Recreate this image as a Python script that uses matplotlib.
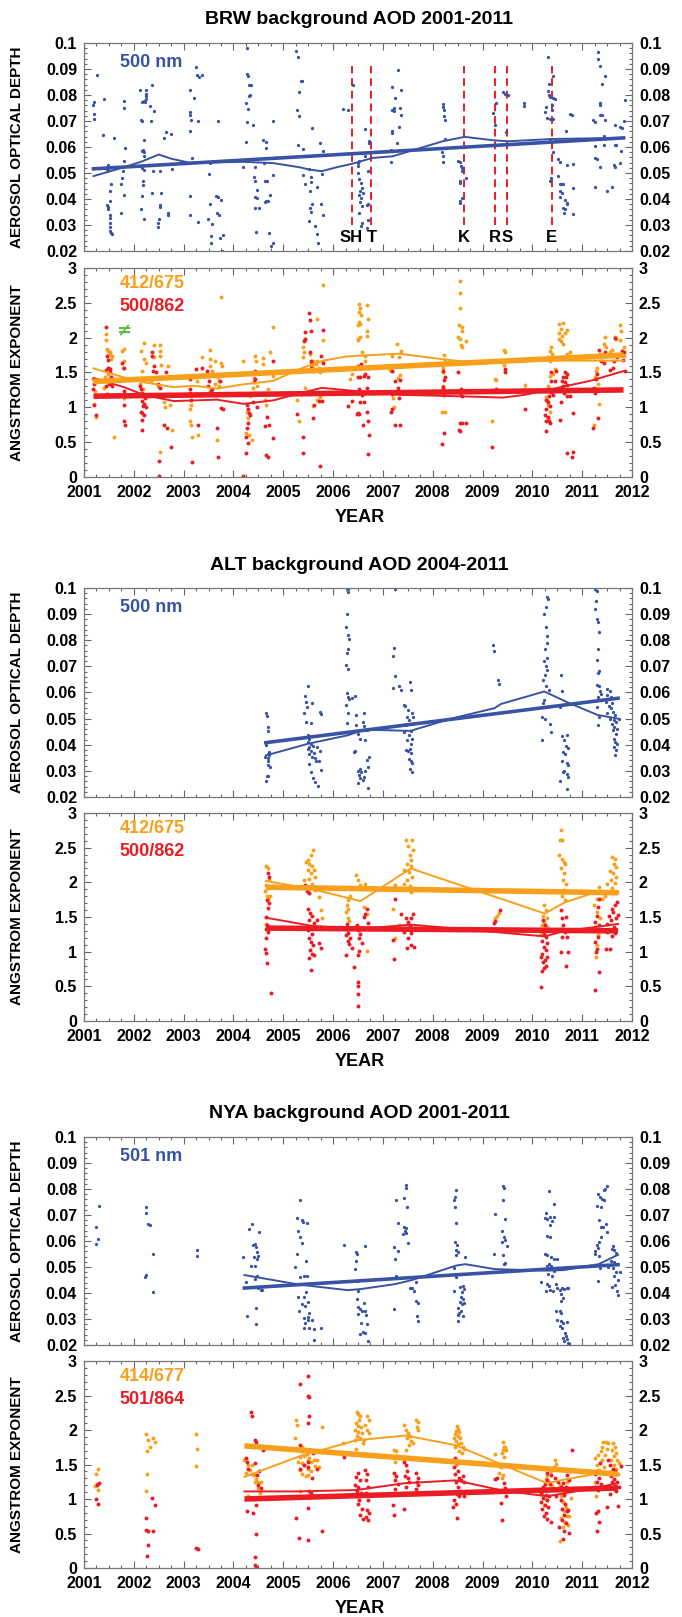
import numpy as np
import matplotlib
matplotlib.use("Agg")
import matplotlib.pyplot as plt
from matplotlib.ticker import MultipleLocator, FuncFormatter

plt.rcParams["font.family"] = ["Liberation Sans Narrow", "Liberation Sans", "DejaVu Sans"]
plt.rcParams["font.weight"] = "bold"

BLUE = "#3953a4"
ORANGE = "#f8a01c"
RED = "#ec1c24"
GREEN = "#5bb947"

# ---------------- BRW ----------------
brw_aod = [
    (2001.27, 0.0876), (2001.20, 0.0773), (2001.19, 0.0763), (2001.20, 0.0727), (2001.20, 0.0709),
    (2001.40, 0.0786), (2001.39, 0.0645), (2001.60, 0.0636),
    (2001.48, 0.0532), (2001.48, 0.0517), (2001.47, 0.0509), (2001.55, 0.0456), (2001.53, 0.0430),
    (2001.53, 0.0394), (2001.47, 0.0376), (2001.49, 0.0371), (2001.48, 0.0360), (2001.53, 0.0338),
    (2001.52, 0.0328), (2001.52, 0.0308), (2001.52, 0.0294), (2001.53, 0.0276), (2001.55, 0.0271),
    (2001.57, 0.0266),
    (2001.80, 0.0778), (2001.81, 0.0750), (2001.83, 0.0596), (2001.80, 0.0548), (2001.79, 0.0507),
    (2001.77, 0.0481), (2001.75, 0.0456), (2001.80, 0.0417), (2001.75, 0.0347),
    (2002.12, 0.0820), (2002.24, 0.0819), (2002.25, 0.0805), (2002.25, 0.0795), (2002.24, 0.0783),
    (2002.20, 0.0778), (2002.17, 0.0774), (2002.23, 0.0772), (2002.15, 0.0705), (2002.17, 0.0699),
    (2002.35, 0.0699), (2002.37, 0.0837), (2002.33, 0.0756), (2002.40, 0.0740), (2002.21, 0.0627),
    (2002.19, 0.0590), (2002.16, 0.0584), (2002.20, 0.0581), (2002.21, 0.0564), (2002.17, 0.0520),
    (2002.20, 0.0512), (2002.19, 0.0471), (2002.19, 0.0453), (2002.17, 0.0413), (2002.15, 0.0362),
    (2002.20, 0.0324), (2002.36, 0.0422), (2002.39, 0.0509), (2002.53, 0.0507), (2002.55, 0.0424),
    (2002.52, 0.0375), (2002.53, 0.0369), (2002.51, 0.0322), (2002.48, 0.0308), (2002.48, 0.0292),
    (2002.68, 0.0346), (2002.68, 0.0338), (2002.77, 0.0516), (2002.61, 0.0636), (2002.65, 0.0658),
    (2002.75, 0.0650),
    (2003.13, 0.0820), (2003.20, 0.0788), (2003.13, 0.0733), (2003.13, 0.0724), (2003.15, 0.0705),
    (2003.28, 0.0701), (2003.13, 0.0663), (2003.25, 0.0906), (2003.27, 0.0878), (2003.30, 0.0868),
    (2003.37, 0.0878), (2003.17, 0.0556), (2003.13, 0.0413), (2003.13, 0.0338), (2003.29, 0.0311),
    (2003.68, 0.0699),
    (2003.52, 0.0539), (2003.51, 0.0497), (2003.52, 0.0379), (2003.49, 0.0324), (2003.57, 0.0302),
    (2003.55, 0.0257), (2003.55, 0.0229), (2003.65, 0.0411), (2003.68, 0.0407), (2003.75, 0.0398),
    (2003.67, 0.0347), (2003.70, 0.0340), (2003.73, 0.0251), (2003.79, 0.0261), (2003.77, 0.0200),
    (2004.27, 0.0980), (2004.28, 0.0882), (2004.29, 0.0872), (2004.32, 0.0840), (2004.35, 0.0837),
    (2004.33, 0.0801), (2004.32, 0.0795), (2004.25, 0.0769), (2004.30, 0.0746), (2004.27, 0.0696),
    (2004.39, 0.0683), (2004.25, 0.0618), (2004.19, 0.0523), (2004.43, 0.0523), (2004.41, 0.0484),
    (2004.44, 0.0468), (2004.47, 0.0436), (2004.43, 0.0407), (2004.47, 0.0404), (2004.43, 0.0366),
    (2004.51, 0.0366), (2004.45, 0.0273), (2004.60, 0.0625), (2004.65, 0.0619), (2004.65, 0.0596),
    (2004.62, 0.0539), (2004.63, 0.0471), (2004.67, 0.0471), (2004.79, 0.0699), (2004.80, 0.0491),
    (2004.73, 0.0417), (2004.70, 0.0394), (2004.65, 0.0394), (2004.63, 0.0389), (2004.72, 0.0268),
    (2004.80, 0.0229), (2004.75, 0.0221),
    (2005.25, 0.0970), (2005.30, 0.0945), (2005.35, 0.0852), (2005.37, 0.0855), (2005.32, 0.0812),
    (2005.27, 0.0744), (2005.32, 0.0718), (2005.30, 0.0607), (2005.40, 0.0593), (2005.57, 0.0673),
    (2005.40, 0.0494), (2005.43, 0.0458), (2005.52, 0.0514), (2005.55, 0.0484), (2005.56, 0.0466),
    (2005.53, 0.0430), (2005.57, 0.0381), (2005.53, 0.0366), (2005.56, 0.0351), (2005.52, 0.0317),
    (2005.64, 0.0295), (2005.67, 0.0266), (2005.69, 0.0230), (2005.67, 0.0445), (2005.73, 0.0616),
    (2005.77, 0.0498), (2005.80, 0.0584), (2005.75, 0.0381), (2005.79, 0.0340),
    (2006.19, 0.0747), (2006.30, 0.0744), (2006.39, 0.0840),
    (2006.49, 0.0539), (2006.49, 0.0526), (2006.53, 0.0545), (2006.51, 0.0500), (2006.64, 0.0671),
    (2006.72, 0.0616), (2006.65, 0.0564), (2006.71, 0.0507), (2006.52, 0.0475), (2006.57, 0.0462),
    (2006.59, 0.0443), (2006.55, 0.0430), (2006.60, 0.0424), (2006.53, 0.0417), (2006.57, 0.0404),
    (2006.55, 0.0389), (2006.59, 0.0372), (2006.71, 0.0381), (2006.68, 0.0376), (2006.52, 0.0347),
    (2006.59, 0.0308), (2006.57, 0.0296), (2006.71, 0.0321), (2006.69, 0.0289), (2006.73, 0.0622),
    (2007.31, 0.0897), (2007.19, 0.0829), (2007.25, 0.0789), (2007.18, 0.0744), (2007.22, 0.0750),
    (2007.23, 0.0737), (2007.36, 0.0820), (2007.35, 0.0750), (2007.37, 0.0724), (2007.18, 0.0663),
    (2007.18, 0.0654), (2007.33, 0.0676), (2007.29, 0.0616), (2007.16, 0.0590), (2007.16, 0.0543),
    (2008.21, 0.0767), (2008.20, 0.0753), (2008.23, 0.0741), (2008.23, 0.0718), (2008.25, 0.0705),
    (2008.25, 0.0632), (2008.19, 0.0581), (2008.20, 0.0564), (2008.21, 0.0543),
    (2008.50, 0.0545), (2008.55, 0.0543), (2008.57, 0.0526), (2008.59, 0.0520), (2008.58, 0.0507),
    (2008.67, 0.0481), (2008.54, 0.0468), (2008.55, 0.0462), (2008.59, 0.0402), (2008.55, 0.0392),
    (2008.54, 0.0383),
    (2009.21, 0.0731), (2009.27, 0.0769), (2009.24, 0.0683), (2009.42, 0.0811), (2009.46, 0.0804),
    (2009.48, 0.0658), (2009.51, 0.0801), (2009.83, 0.0768), (2009.84, 0.0758),
    (2010.32, 0.0945), (2010.42, 0.0872), (2010.34, 0.0842), (2010.32, 0.0814), (2010.34, 0.0801),
    (2010.36, 0.0791), (2010.42, 0.0788), (2010.46, 0.0786), (2010.39, 0.0763), (2010.26, 0.0735),
    (2010.30, 0.0712), (2010.35, 0.0709), (2010.42, 0.0709), (2010.39, 0.0744), (2010.27, 0.0753),
    (2010.36, 0.0632), (2010.42, 0.0581), (2010.36, 0.0471), (2010.38, 0.0481), (2010.52, 0.0555),
    (2010.56, 0.0543), (2010.70, 0.0530), (2010.81, 0.0535), (2010.52, 0.0488), (2010.55, 0.0458),
    (2010.58, 0.0456), (2010.62, 0.0456), (2010.55, 0.0430), (2010.59, 0.0424), (2010.56, 0.0407),
    (2010.66, 0.0398), (2010.69, 0.0385), (2010.70, 0.0379), (2010.62, 0.0366), (2010.66, 0.0360),
    (2010.63, 0.0347), (2010.82, 0.0343), (2010.81, 0.0443), (2010.75, 0.0727), (2010.79, 0.0724),
    (2010.67, 0.0661),
    (2011.32, 0.0964), (2011.32, 0.0940), (2011.35, 0.0910), (2011.46, 0.0872), (2011.39, 0.0843),
    (2011.35, 0.0769), (2011.35, 0.0760), (2011.36, 0.0722), (2011.39, 0.0722), (2011.46, 0.0704),
    (2011.22, 0.0703), (2011.25, 0.0696), (2011.43, 0.0641), (2011.26, 0.0603), (2011.44, 0.0607),
    (2011.66, 0.0609), (2011.80, 0.0673), (2011.83, 0.0699), (2011.76, 0.0676), (2011.66, 0.0686),
    (2011.85, 0.0779), (2011.78, 0.0584), (2011.68, 0.0606), (2011.26, 0.0558), (2011.29, 0.0552),
    (2011.35, 0.0523), (2011.63, 0.0532), (2011.66, 0.0522), (2011.75, 0.0539), (2011.26, 0.0448),
    (2011.49, 0.0430), (2011.59, 0.0447),
]
brw_aod_fit_t = [2001.19, 2011.83]
brw_aod_fit_v = [0.0516, 0.0635]
brw_aod_mean_t = [2001.19, 2001.80, 2002.17, 2002.50, 2002.75, 2003.13, 2004.20, 2004.80, 2005.33,
                  2005.53, 2005.77, 2006.07, 2006.37, 2006.52, 2006.79, 2007.19, 2007.80, 2008.20,
                  2008.64, 2009.21, 2009.51, 2010.42, 2011.83]
brw_aod_mean_v = [0.0488, 0.0522, 0.0545, 0.0571, 0.0555, 0.0539, 0.0543, 0.0538, 0.0522,
                  0.0513, 0.0507, 0.0522, 0.0535, 0.0543, 0.0558, 0.0564, 0.0599, 0.0622,
                  0.0639, 0.0626, 0.0622, 0.0631, 0.0635]
brw_events = ["SH", "T", "K", "R", "S", "E"]
brw_event_t = [2006.37, 2006.77, 2008.63, 2009.24, 2009.49, 2010.39]

brw_ang_a = [  # 412/675
    (2001.19, 1.40), (2001.20, 1.05), (2001.25, 0.86), (2001.23, 1.24),
    (2001.45, 2.05), (2001.45, 1.97), (2001.47, 1.84), (2001.48, 1.81), (2001.52, 1.79), (2001.53, 1.76),
    (2001.56, 1.73), (2001.55, 1.69), (2001.50, 1.57), (2001.43, 1.43), (2001.45, 1.38), (2001.48, 1.48),
    (2001.40, 1.28), (2001.60, 0.58),
    (2001.77, 1.81), (2001.80, 1.84), (2001.80, 1.67), (2001.79, 1.57), (2001.81, 1.14),
    (2002.20, 1.93), (2002.15, 1.81), (2002.21, 1.69), (2002.24, 1.64), (2002.17, 1.52), (2002.13, 1.33),
    (2002.19, 1.27), (2002.40, 1.89), (2002.52, 1.89), (2002.53, 1.81), (2002.53, 1.73), (2002.41, 1.72),
    (2002.55, 1.61), (2002.35, 1.38), (2002.48, 1.31), (2002.60, 1.07), (2002.63, 1.00), (2002.73, 1.04),
    (2002.52, 0.36), (2002.68, 1.60), (2002.77, 0.67),
    (2003.15, 1.04), (2003.13, 0.97), (2003.13, 0.80), (2003.15, 0.74), (2003.17, 0.58), (2003.28, 0.60),
    (2003.23, 1.19), (2003.27, 1.38), (2003.37, 1.72),
    (2003.53, 1.83), (2003.53, 1.69), (2003.52, 1.60), (2003.57, 1.52), (2003.52, 1.47), (2003.63, 1.66),
    (2003.75, 1.64), (2003.77, 1.60), (2003.68, 1.43), (2003.70, 1.38), (2003.63, 1.33), (2003.70, 1.31),
    (2003.67, 0.53), (2003.74, 2.58), (2003.53, 1.24),
    (2004.19, 1.66), (2004.43, 1.74), (2004.45, 1.66), (2004.41, 1.42), (2004.47, 1.31), (2004.40, 1.28),
    (2004.43, 1.21), (2004.47, 1.19), (2004.33, 1.16), (2004.27, 0.94), (2004.30, 0.85), (2004.25, 0.63),
    (2004.32, 0.60), (2004.37, 0.53), (2004.60, 1.71), (2004.60, 1.62), (2004.73, 1.79), (2004.80, 2.15),
    (2004.80, 1.45), (2004.70, 1.26), (2004.63, 1.10), (2004.65, 1.03),
    (2005.40, 1.86), (2005.41, 1.79), (2005.43, 1.98), (2005.40, 1.72), (2005.53, 1.77), (2005.56, 1.64),
    (2005.57, 1.60), (2005.60, 1.56), (2005.59, 1.67), (2005.65, 1.62), (2005.68, 1.67), (2005.71, 1.56),
    (2005.73, 1.50), (2005.67, 2.27), (2005.79, 2.76), (2005.80, 1.96), (2005.79, 1.67), (2005.27, 1.10),
    (2005.32, 0.80), (2005.43, 1.28), (2005.59, 1.02), (2005.67, 1.11), (2005.73, 1.15),
    (2006.33, 1.40), (2006.37, 1.48), (2006.40, 1.57),
    (2006.52, 2.49), (2006.55, 2.42), (2006.53, 2.37), (2006.56, 2.32), (2006.52, 2.23), (2006.55, 2.20),
    (2006.51, 2.18), (2006.69, 2.47), (2006.71, 2.27), (2006.69, 2.10), (2006.69, 2.03), (2006.49, 1.98),
    (2006.51, 1.96), (2006.55, 2.01), (2006.59, 1.79), (2006.65, 1.74), (2006.65, 1.66), (2006.49, 1.57),
    (2006.72, 1.57), (2006.57, 1.57),
    (2007.19, 1.73), (2007.33, 1.72), (2007.36, 1.81), (2007.29, 1.91), (2007.18, 1.52), (2007.15, 1.53),
    (2007.34, 1.47), (2007.31, 1.42), (2007.23, 1.01), (2007.21, 1.14),
    (2008.23, 1.75), (2008.25, 1.68), (2008.21, 1.56), (2008.20, 1.50), (2008.21, 1.31), (2008.19, 0.93),
    (2008.24, 0.93),
    (2008.54, 2.82), (2008.55, 2.64), (2008.55, 2.43), (2008.52, 2.18), (2008.59, 2.16), (2008.59, 2.10),
    (2008.50, 2.01), (2008.55, 1.98), (2008.57, 1.89), (2008.59, 1.86), (2008.67, 1.95),
    (2009.19, 0.80), (2009.26, 1.40), (2009.27, 1.39), (2009.44, 1.82), (2009.46, 1.79), (2009.44, 1.61),
    (2009.85, 1.32), (2009.85, 1.27),
    (2010.38, 1.87), (2010.36, 1.81), (2010.40, 1.77), (2010.32, 1.72), (2010.35, 1.66), (2010.45, 1.55),
    (2010.42, 1.48), (2010.35, 1.45), (2010.32, 1.31), (2010.54, 2.19), (2010.62, 2.21), (2010.57, 2.13),
    (2010.54, 2.06), (2010.59, 2.03), (2010.54, 1.98), (2010.62, 1.91), (2010.57, 1.95), (2010.65, 2.06),
    (2010.69, 2.11), (2010.69, 1.77), (2010.75, 1.79), (2010.82, 1.71), (2010.27, 1.15), (2010.30, 1.11),
    (2010.32, 1.03), (2010.35, 0.94), (2010.32, 0.85),
    (2011.76, 2.18), (2011.78, 2.10), (2011.68, 1.98), (2011.66, 2.01), (2011.76, 1.96), (2011.46, 2.01),
    (2011.43, 1.91), (2011.48, 1.87), (2011.36, 1.77), (2011.43, 1.74), (2011.56, 1.80), (2011.59, 1.82),
    (2011.30, 1.57), (2011.28, 1.52), (2011.26, 1.43), (2011.32, 1.33), (2011.34, 1.05), (2011.24, 0.75),
    (2011.84, 1.86), (2011.83, 1.74),
]
brw_ang_b = [  # 500/862
    (2001.20, 1.33), (2001.19, 1.27), (2001.21, 1.03), (2001.25, 0.89),
    (2001.45, 2.16), (2001.47, 1.74), (2001.49, 1.68), (2001.48, 1.57), (2001.45, 1.53), (2001.53, 1.55),
    (2001.52, 1.50), (2001.55, 1.43), (2001.53, 1.35), (2001.50, 1.33), (2001.45, 1.31), (2001.47, 1.19),
    (2001.57, 1.31),
    (2001.77, 1.63), (2001.80, 1.56), (2001.80, 1.23), (2001.81, 1.03), (2001.80, 0.81), (2001.83, 0.74),
    (2002.13, 1.31), (2002.15, 1.26), (2002.17, 1.21), (2002.20, 1.18), (2002.23, 1.14), (2002.17, 1.09),
    (2002.21, 1.05), (2002.19, 1.02), (2002.24, 1.00), (2002.15, 0.94), (2002.17, 0.92), (2002.20, 0.89),
    (2002.16, 0.82), (2002.16, 0.67), (2002.36, 1.79), (2002.37, 1.73), (2002.41, 1.60), (2002.39, 1.52),
    (2002.45, 1.50), (2002.48, 1.34), (2002.52, 1.28), (2002.60, 0.75), (2002.67, 0.71), (2002.50, 0.23),
    (2002.51, 0.01), (2002.75, 0.43), (2002.65, 1.51),
    (2003.13, 1.40), (2003.12, 1.26), (2003.13, 1.20), (2003.15, 1.10), (2003.28, 0.74), (2003.17, 0.21),
    (2003.25, 1.55), (2003.37, 1.57), (2003.47, 1.52),
    (2003.51, 1.38), (2003.57, 1.27), (2003.48, 1.31), (2003.55, 1.23), (2003.67, 0.70), (2003.68, 0.29),
    (2003.73, 1.38), (2003.75, 0.99), (2003.80, 0.97),
    (2004.19, 0.02), (2004.27, 1.04), (2004.30, 0.97), (2004.32, 0.92), (2004.33, 0.89), (2004.30, 0.78),
    (2004.28, 0.70), (2004.25, 0.58), (2004.30, 0.49), (2004.25, 0.34), (2004.43, 1.52), (2004.44, 1.40),
    (2004.41, 1.36), (2004.40, 1.08), (2004.47, 1.00), (2004.67, 0.86), (2004.63, 0.73), (2004.72, 0.75),
    (2004.65, 0.31), (2004.69, 0.28), (2004.79, 1.66), (2004.60, 1.19), (2004.80, 0.56),
    (2005.52, 2.35), (2005.53, 2.25), (2005.55, 2.10), (2005.43, 2.08), (2005.44, 1.98), (2005.41, 1.95),
    (2005.53, 1.79), (2005.55, 1.67), (2005.56, 1.57), (2005.60, 1.52), (2005.79, 2.11), (2005.75, 1.74),
    (2005.80, 1.63), (2005.32, 1.21), (2005.27, 0.91), (2005.35, 1.19), (2005.40, 0.57), (2005.40, 0.35),
    (2005.60, 0.85), (2005.61, 1.04), (2005.73, 0.16), (2005.72, 1.09), (2005.77, 1.09),
    (2006.37, 1.09), (2006.30, 1.02), (2006.47, 0.91),
    (2006.49, 1.60), (2006.53, 1.57), (2006.56, 1.62), (2006.51, 1.43), (2006.55, 1.44), (2006.62, 1.45),
    (2006.71, 1.43), (2006.65, 1.48), (2006.69, 1.28), (2006.52, 1.26), (2006.55, 1.23), (2006.59, 1.18),
    (2006.62, 1.08), (2006.55, 1.07), (2006.51, 0.92), (2006.53, 0.90), (2006.69, 0.94), (2006.71, 0.80),
    (2006.73, 0.61), (2006.60, 0.74), (2006.71, 0.33),
    (2007.18, 1.52), (2007.25, 1.38), (2007.34, 1.39), (2007.30, 1.28), (2007.19, 1.19), (2007.33, 1.14),
    (2007.18, 0.98), (2007.16, 0.94), (2007.25, 0.74), (2007.34, 0.75),
    (2008.20, 1.52), (2008.25, 1.44), (2008.23, 1.39), (2008.21, 1.29), (2008.20, 1.26), (2008.23, 1.18),
    (2008.23, 0.63), (2008.18, 0.47),
    (2008.50, 1.51), (2008.57, 1.26), (2008.59, 1.23), (2008.55, 1.20), (2008.59, 1.16), (2008.54, 0.78),
    (2008.59, 0.78), (2008.52, 0.68), (2008.55, 0.66), (2008.67, 0.78),
    (2009.27, 1.27), (2009.45, 1.55), (2009.46, 1.50), (2009.19, 0.43), (2009.85, 0.97),
    (2010.38, 1.50), (2010.48, 1.52), (2010.45, 1.38), (2010.38, 1.38), (2010.34, 1.26), (2010.38, 1.22),
    (2010.42, 1.18), (2010.34, 1.16), (2010.28, 1.11), (2010.32, 1.07), (2010.35, 1.02), (2010.28, 0.97),
    (2010.25, 0.89), (2010.32, 0.86), (2010.27, 0.81), (2010.34, 0.80), (2010.36, 0.78), (2010.28, 0.66),
    (2010.65, 1.50), (2010.62, 1.44), (2010.67, 1.43), (2010.70, 1.48), (2010.59, 1.38), (2010.65, 1.37),
    (2010.61, 1.31), (2010.70, 1.32), (2010.63, 1.20), (2010.70, 1.16), (2010.57, 1.07), (2010.75, 1.16),
    (2010.55, 0.82), (2010.82, 0.92), (2010.69, 0.34), (2010.81, 0.36), (2010.79, 0.29),
    (2011.66, 2.00), (2011.79, 1.81), (2011.83, 1.79), (2011.69, 1.72), (2011.64, 1.67), (2011.46, 1.80),
    (2011.44, 1.64), (2011.37, 1.66), (2011.34, 1.82), (2011.29, 1.48), (2011.28, 1.40), (2011.24, 1.28),
    (2011.26, 1.21), (2011.56, 1.53), (2011.61, 1.57), (2011.32, 0.84), (2011.22, 0.71), (2011.82, 1.68),
    (2011.85, 1.52),
]
brw_ang_fit_t = [2001.19, 2011.83]
brw_ang_a_fit = [1.37, 1.75]
brw_ang_b_fit = [1.16, 1.25]
brw_ang_a_mean_t = [2001.19, 2001.80, 2002.20, 2002.80, 2003.20, 2003.67, 2004.20, 2004.80, 2005.33,
                    2005.80, 2006.27, 2006.50, 2007.33, 2008.20, 2008.60, 2009.40, 2010.38, 2011.83]
brw_ang_a_mean_v = [1.56, 1.43, 1.36, 1.29, 1.31, 1.27, 1.33, 1.38, 1.55,
                    1.67, 1.73, 1.74, 1.77, 1.69, 1.66, 1.66, 1.67, 1.67]
brw_ang_b_mean_t = [2001.19, 2001.80, 2002.20, 2002.80, 2003.67, 2004.20, 2004.80, 2005.27, 2005.77,
                    2006.07, 2006.50, 2007.33, 2008.47, 2009.41, 2009.85, 2010.38, 2011.16, 2011.83]
brw_ang_b_mean_v = [1.42, 1.29, 1.18, 1.09, 1.11, 1.05, 1.10, 1.19, 1.28,
                    1.26, 1.23, 1.18, 1.16, 1.14, 1.18, 1.26, 1.38, 1.52]
brw_other = (2001.80, 2.09)

# ---------------- ALT ----------------
alt_aod = [
    (2004.65, 0.0520), (2004.67, 0.0510), (2004.69, 0.0468), (2004.70, 0.0453), (2004.65, 0.0400),
    (2004.69, 0.0363), (2004.72, 0.0359), (2004.63, 0.0352), (2004.69, 0.0339), (2004.70, 0.0324),
    (2004.74, 0.0314), (2004.67, 0.0281), (2004.70, 0.0279), (2004.65, 0.0262), (2004.72, 0.0372),
    (2004.70, 0.0350),
    (2005.50, 0.0626), (2005.43, 0.0588), (2005.45, 0.0565), (2005.47, 0.0546), (2005.42, 0.0523),
    (2005.46, 0.0488), (2005.56, 0.0484), (2005.57, 0.0561), (2005.73, 0.0526), (2005.75, 0.0517),
    (2005.50, 0.0436), (2005.52, 0.0423), (2005.49, 0.0410), (2005.56, 0.0404), (2005.59, 0.0397),
    (2005.52, 0.0391), (2005.49, 0.0385), (2005.56, 0.0375), (2005.61, 0.0370), (2005.52, 0.0365),
    (2005.57, 0.0355), (2005.63, 0.0350), (2005.68, 0.0391), (2005.73, 0.0375), (2005.71, 0.0339),
    (2005.52, 0.0326), (2005.56, 0.0294), (2005.59, 0.0272), (2005.63, 0.0259), (2005.70, 0.0243),
    (2005.75, 0.0303), (2005.66, 0.0337),
    (2006.29, 0.0997), (2006.30, 0.0985), (2006.27, 0.0900), (2006.25, 0.0849), (2006.29, 0.0819),
    (2006.32, 0.0806), (2006.30, 0.0768), (2006.27, 0.0752), (2006.25, 0.0707), (2006.29, 0.0690),
    (2006.27, 0.0597), (2006.29, 0.0584), (2006.32, 0.0574), (2006.37, 0.0578), (2006.44, 0.0587),
    (2006.46, 0.0514), (2006.25, 0.0552), (2006.29, 0.0520), (2006.27, 0.0484), (2006.46, 0.0475),
    (2006.51, 0.0443), (2006.62, 0.0520), (2006.63, 0.0471), (2006.60, 0.0488), (2006.68, 0.0458),
    (2006.55, 0.0423), (2006.65, 0.0417), (2006.44, 0.0375), (2006.42, 0.0372), (2006.72, 0.0352),
    (2006.68, 0.0342), (2006.55, 0.0307), (2006.51, 0.0300), (2006.57, 0.0294), (2006.53, 0.0285),
    (2006.55, 0.0272), (2006.50, 0.0255), (2006.60, 0.0265), (2006.70, 0.0236), (2006.65, 0.0300),
    (2006.70, 0.0314), (2006.63, 0.0277),
    (2007.24, 0.0995), (2007.23, 0.0772), (2007.21, 0.0740), (2007.24, 0.0662), (2007.20, 0.0617),
    (2007.33, 0.0626), (2007.37, 0.0608), (2007.55, 0.0639), (2007.57, 0.0610), (2007.42, 0.0552),
    (2007.45, 0.0548), (2007.50, 0.0533), (2007.59, 0.0520), (2007.49, 0.0507), (2007.52, 0.0494),
    (2007.47, 0.0475), (2007.42, 0.0449), (2007.57, 0.0453), (2007.52, 0.0436), (2007.59, 0.0423),
    (2007.49, 0.0417), (2007.56, 0.0401), (2007.54, 0.0385), (2007.50, 0.0375), (2007.57, 0.0368),
    (2007.52, 0.0346), (2007.56, 0.0337), (2007.59, 0.0329), (2007.54, 0.0307), (2007.59, 0.0294),
    (2007.46, 0.0380), (2007.61, 0.0507),
    (2009.20, 0.0781), (2009.23, 0.0759), (2009.31, 0.0649), (2009.33, 0.0634),
    (2010.30, 0.0965), (2010.32, 0.0956), (2010.27, 0.0926), (2010.24, 0.0900), (2010.27, 0.0849),
    (2010.30, 0.0817), (2010.29, 0.0791), (2010.25, 0.0765), (2010.29, 0.0733), (2010.23, 0.0720),
    (2010.27, 0.0700), (2010.30, 0.0688), (2010.25, 0.0668), (2010.22, 0.0649), (2010.27, 0.0623),
    (2010.33, 0.0610), (2010.24, 0.0572), (2010.22, 0.0559), (2010.27, 0.0546), (2010.20, 0.0507),
    (2010.25, 0.0500), (2010.36, 0.0481), (2010.37, 0.0449), (2010.20, 0.0417), (2010.57, 0.0668),
    (2010.59, 0.0604), (2010.55, 0.0546), (2010.59, 0.0432), (2010.70, 0.0436), (2010.63, 0.0417),
    (2010.68, 0.0397), (2010.72, 0.0388), (2010.62, 0.0372), (2010.65, 0.0365), (2010.60, 0.0337),
    (2010.69, 0.0329), (2010.72, 0.0324), (2010.63, 0.0301), (2010.62, 0.0294), (2010.69, 0.0288),
    (2010.72, 0.0275), (2010.55, 0.0262), (2010.70, 0.0230),
    (2011.26, 0.0995), (2011.30, 0.0987), (2011.28, 0.0952), (2011.26, 0.0920), (2011.29, 0.0881),
    (2011.31, 0.0871), (2011.33, 0.0830), (2011.31, 0.0768), (2011.30, 0.0724), (2011.33, 0.0681),
    (2011.31, 0.0675), (2011.29, 0.0630), (2011.33, 0.0623), (2011.35, 0.0604), (2011.37, 0.0594),
    (2011.31, 0.0584), (2011.38, 0.0572), (2011.30, 0.0546), (2011.33, 0.0507), (2011.31, 0.0475),
    (2011.50, 0.0613), (2011.55, 0.0604), (2011.49, 0.0591), (2011.57, 0.0584), (2011.52, 0.0574),
    (2011.47, 0.0565), (2011.59, 0.0559), (2011.54, 0.0548), (2011.57, 0.0539), (2011.61, 0.0526),
    (2011.50, 0.0520), (2011.66, 0.0514), (2011.56, 0.0500), (2011.63, 0.0494), (2011.68, 0.0488),
    (2011.59, 0.0479), (2011.64, 0.0468), (2011.70, 0.0462), (2011.61, 0.0455), (2011.68, 0.0443),
    (2011.63, 0.0423), (2011.66, 0.0410), (2011.70, 0.0401), (2011.64, 0.0391), (2011.68, 0.0378),
    (2011.66, 0.0359), (2011.73, 0.0500),
]
alt_aod_fit_t = [2004.65, 2011.72]
alt_aod_fit_v = [0.0408, 0.0578]
alt_aod_mean_t = [2004.65, 2005.50, 2006.29, 2006.63, 2007.55, 2008.37, 2009.24, 2009.37, 2010.24,
                  2010.72, 2011.31, 2011.72]
alt_aod_mean_v = [0.0359, 0.0404, 0.0436, 0.0458, 0.0453, 0.0500, 0.0540, 0.0556, 0.0604,
                  0.0561, 0.0514, 0.0500]

alt_ang_a = [  # 412/675
    (2004.65, 2.23), (2004.70, 2.20), (2004.72, 2.03), (2004.65, 1.96), (2004.69, 1.92), (2004.63, 1.88),
    (2004.67, 1.80), (2004.70, 1.76), (2004.74, 1.81), (2004.65, 1.40), (2004.72, 1.36),
    (2005.59, 2.46), (2005.55, 2.39), (2005.50, 2.32), (2005.46, 2.29), (2005.52, 2.27), (2005.57, 2.23),
    (2005.49, 2.18), (2005.61, 2.18), (2005.56, 2.13), (2005.63, 2.07), (2005.52, 2.05), (2005.42, 2.03),
    (2005.57, 1.98), (2005.47, 1.93), (2005.64, 1.89), (2005.72, 1.79), (2005.75, 1.60), (2005.77, 1.49),
    (2005.52, 1.84),
    (2006.33, 1.81), (2006.29, 1.74), (2006.27, 1.67), (2006.30, 1.62), (2006.25, 1.57), (2006.29, 1.48),
    (2006.32, 1.44), (2006.46, 2.10), (2006.51, 2.03), (2006.55, 1.96), (2006.65, 1.98), (2006.62, 1.64),
    (2006.68, 1.55), (2006.44, 1.36), (2006.68, 1.01),
    (2007.46, 2.61), (2007.59, 2.61), (2007.50, 2.53), (2007.61, 2.46), (2007.54, 2.39), (2007.57, 2.32),
    (2007.49, 2.27), (2007.56, 2.23), (2007.43, 2.18), (2007.52, 2.15), (2007.59, 2.08), (2007.49, 2.03),
    (2007.42, 1.98), (2007.55, 1.94), (2007.47, 1.91), (2007.57, 1.86), (2007.24, 1.96), (2007.20, 1.62),
    (2007.33, 1.38), (2007.24, 1.19),
    (2009.24, 1.48), (2009.30, 1.52), (2009.33, 1.56),
    (2010.57, 2.75), (2010.55, 2.61), (2010.60, 2.61), (2010.53, 2.39), (2010.59, 2.34), (2010.63, 2.29),
    (2010.65, 2.27), (2010.57, 2.20), (2010.63, 2.13), (2010.62, 2.03), (2010.68, 1.98), (2010.63, 1.89),
    (2010.60, 1.81), (2010.65, 1.74), (2010.24, 1.67), (2010.27, 1.60), (2010.22, 1.52), (2010.29, 1.48),
    (2010.24, 1.43), (2010.20, 1.38), (2010.30, 1.36), (2010.27, 1.31), (2010.18, 1.26),
    (2011.59, 2.37), (2011.66, 2.34), (2011.63, 2.27), (2011.68, 2.22), (2011.56, 2.17), (2011.61, 2.13),
    (2011.68, 2.08), (2011.57, 2.03), (2011.50, 1.98), (2011.66, 1.99), (2011.59, 1.92), (2011.52, 1.86),
    (2011.70, 1.86), (2011.46, 1.80), (2011.40, 1.76), (2011.33, 1.93), (2011.31, 1.86), (2011.29, 1.76),
    (2011.24, 1.67), (2011.30, 1.57), (2011.35, 1.48), (2011.26, 1.36), (2011.31, 1.24), (2011.30, 1.09),
    (2011.28, 0.93),
]
alt_ang_b = [  # 500/862
    (2004.70, 2.13), (2004.72, 2.08), (2004.69, 1.93), (2004.67, 1.74), (2004.72, 1.70), (2004.70, 1.63),
    (2004.65, 1.50), (2004.67, 1.38), (2004.65, 1.33), (2004.69, 1.28), (2004.65, 1.20), (2004.63, 1.04),
    (2004.65, 0.98), (2004.67, 0.83), (2004.76, 0.40),
    (2005.43, 1.96), (2005.47, 1.88), (2005.52, 1.85), (2005.49, 1.62), (2005.54, 1.56), (2005.57, 1.51),
    (2005.52, 1.45), (2005.61, 1.41), (2005.56, 1.36), (2005.50, 1.31), (2005.57, 1.26), (2005.52, 1.19),
    (2005.56, 1.14), (2005.59, 1.09), (2005.54, 1.03), (2005.57, 0.96), (2005.61, 0.95), (2005.52, 0.91),
    (2005.72, 1.12), (2005.75, 1.06), (2005.56, 0.74), (2005.68, 1.46), (2005.73, 1.36),
    (2006.27, 1.40), (2006.29, 1.33), (2006.30, 1.27), (2006.25, 1.24), (2006.34, 1.20), (2006.29, 1.16),
    (2006.32, 1.11), (2006.37, 1.06), (2006.25, 0.95), (2006.42, 0.78), (2006.48, 1.38), (2006.51, 1.31),
    (2006.55, 1.26), (2006.53, 1.19), (2006.59, 1.12), (2006.53, 1.01), (2006.51, 0.95), (2006.62, 1.50),
    (2006.65, 1.55), (2006.68, 1.61), (2006.70, 1.41), (2006.72, 1.33), (2006.50, 0.56), (2006.51, 0.50),
    (2006.51, 0.39), (2006.50, 0.22),
    (2007.24, 1.76), (2007.37, 1.55), (2007.46, 1.48), (2007.50, 1.43), (2007.57, 1.49), (2007.61, 1.54),
    (2007.54, 1.37), (2007.49, 1.32), (2007.42, 1.28), (2007.57, 1.27), (2007.63, 1.33), (2007.50, 1.20),
    (2007.56, 1.09), (2007.49, 1.06), (2007.63, 1.07), (2007.20, 1.17), (2007.23, 0.90),
    (2009.23, 1.41), (2009.24, 1.44), (2009.35, 1.60),
    (2010.22, 1.45), (2010.25, 1.38), (2010.29, 1.31), (2010.23, 1.26), (2010.27, 1.21), (2010.20, 1.16),
    (2010.30, 1.12), (2010.23, 1.07), (2010.27, 1.02), (2010.20, 0.97), (2010.17, 0.93), (2010.25, 0.88),
    (2010.22, 0.85), (2010.27, 0.80), (2010.23, 0.77), (2010.20, 0.72), (2010.17, 0.49), (2010.30, 0.92),
    (2010.57, 1.60), (2010.60, 1.48), (2010.68, 1.50), (2010.62, 1.38), (2010.57, 1.33), (2010.65, 1.28),
    (2010.60, 1.21), (2010.69, 1.21), (2010.58, 1.00), (2010.72, 1.00), (2010.68, 0.80),
    (2011.33, 1.76), (2011.31, 1.64), (2011.30, 1.52), (2011.26, 1.43), (2011.33, 1.38), (2011.28, 1.31),
    (2011.31, 1.21), (2011.26, 1.14), (2011.30, 1.04), (2011.28, 1.00), (2011.33, 0.71), (2011.26, 0.45),
    (2011.59, 1.62), (2011.66, 1.67), (2011.70, 1.72), (2011.61, 1.57), (2011.54, 1.52), (2011.68, 1.49),
    (2011.57, 1.45), (2011.50, 1.40), (2011.63, 1.36), (2011.56, 1.32), (2011.49, 1.28), (2011.66, 1.27),
    (2011.59, 1.22), (2011.47, 1.04), (2011.56, 1.04), (2011.72, 1.53),
]
alt_ang_fit_t = [2004.65, 2011.72]
alt_ang_a_fit = [1.93, 1.85]
alt_ang_b_fit = [1.34, 1.30]
alt_ang_mean_t = [2004.65, 2005.59, 2006.55, 2007.56, 2010.25, 2010.65, 2011.32, 2011.72]
alt_ang_a_mean_v = [2.02, 1.90, 1.73, 2.20, 1.55, 1.71, 1.87, 1.87]
alt_ang_b_mean_v = [1.49, 1.37, 1.33, 1.39, 1.22, 1.30, 1.36, 1.40]

# ---------------- NYA ----------------
nya_aod = [
    (2001.24, 0.0655), (2001.29, 0.0608), (2001.24, 0.0588), (2001.31, 0.0736),
    (2002.25, 0.0732), (2002.24, 0.0707), (2002.29, 0.0666), (2002.32, 0.0662), (2002.25, 0.0469),
    (2002.23, 0.0462), (2002.39, 0.0550), (2002.39, 0.0402),
    (2003.26, 0.0565), (2003.26, 0.0543),
    (2004.20, 0.0537), (2004.25, 0.0441), (2004.27, 0.0312), (2004.32, 0.0646), (2004.37, 0.0666),
    (2004.39, 0.0586), (2004.43, 0.0588), (2004.46, 0.0576), (2004.41, 0.0537), (2004.36, 0.0505),
    (2004.44, 0.0505), (2004.48, 0.0531), (2004.50, 0.0543), (2004.48, 0.0556), (2004.51, 0.0633),
    (2004.43, 0.0453), (2004.48, 0.0467), (2004.55, 0.0411), (2004.50, 0.0421), (2004.46, 0.0344),
    (2004.46, 0.0280), (2004.58, 0.0411),
    (2005.33, 0.0756), (2005.28, 0.0687), (2005.37, 0.0681), (2005.40, 0.0672), (2005.47, 0.0668),
    (2005.30, 0.0640), (2005.33, 0.0614), (2005.37, 0.0591), (2005.28, 0.0550), (2005.24, 0.0501),
    (2005.45, 0.0524), (2005.33, 0.0460), (2005.42, 0.0466), (2005.47, 0.0466), (2005.30, 0.0385),
    (2005.45, 0.0402), (2005.42, 0.0383), (2005.49, 0.0364), (2005.38, 0.0357), (2005.43, 0.0350),
    (2005.31, 0.0331), (2005.52, 0.0325), (2005.50, 0.0308), (2005.42, 0.0305), (2005.49, 0.0295),
    (2005.43, 0.0286), (2005.52, 0.0267), (2005.57, 0.0297), (2005.61, 0.0260), (2005.75, 0.0267),
    (2005.42, 0.0264), (2005.61, 0.0218),
    (2006.22, 0.0585), (2006.46, 0.0556), (2006.48, 0.0550), (2006.46, 0.0524), (2006.44, 0.0492),
    (2006.48, 0.0447), (2006.51, 0.0408), (2006.48, 0.0376), (2006.51, 0.0347), (2006.55, 0.0338),
    (2006.58, 0.0331), (2006.51, 0.0321), (2006.57, 0.0286), (2006.60, 0.0251), (2006.55, 0.0241),
    (2006.65, 0.0331), (2006.67, 0.0316), (2006.69, 0.0280), (2006.65, 0.0248), (2006.70, 0.0215),
    (2006.65, 0.0579), (2006.63, 0.0363),
    (2007.47, 0.0817), (2007.46, 0.0804), (2007.26, 0.0756), (2007.42, 0.0766), (2007.49, 0.0732),
    (2007.30, 0.0668), (2007.43, 0.0652), (2007.45, 0.0640), (2007.40, 0.0627), (2007.47, 0.0630),
    (2007.50, 0.0591), (2007.23, 0.0576), (2007.31, 0.0563), (2007.24, 0.0531), (2007.26, 0.0466),
    (2007.46, 0.0650), (2007.54, 0.0421), (2007.59, 0.0421), (2007.66, 0.0441), (2007.63, 0.0408),
    (2007.66, 0.0370), (2007.70, 0.0363), (2007.68, 0.0312), (2007.70, 0.0293), (2007.23, 0.0338),
    (2008.46, 0.0797), (2008.44, 0.0771), (2008.43, 0.0756), (2008.44, 0.0732), (2008.46, 0.0668),
    (2008.44, 0.0595), (2008.48, 0.0586), (2008.46, 0.0565), (2008.50, 0.0556), (2008.46, 0.0547),
    (2008.65, 0.0540), (2008.43, 0.0498), (2008.46, 0.0462), (2008.42, 0.0408), (2008.55, 0.0424),
    (2008.60, 0.0428), (2008.62, 0.0415), (2008.58, 0.0402), (2008.57, 0.0385), (2008.60, 0.0376),
    (2008.55, 0.0367), (2008.58, 0.0357), (2008.51, 0.0344), (2008.57, 0.0331), (2008.53, 0.0325),
    (2008.50, 0.0316), (2008.60, 0.0312), (2008.51, 0.0293), (2008.63, 0.0363),
    (2009.24, 0.0702), (2009.23, 0.0550), (2009.42, 0.0813), (2009.43, 0.0804), (2009.42, 0.0756),
    (2009.45, 0.0685), (2009.40, 0.0640), (2009.43, 0.0614), (2009.45, 0.0604), (2009.40, 0.0595),
    (2009.49, 0.0582), (2009.42, 0.0547), (2009.46, 0.0514), (2009.43, 0.0511),
    (2010.33, 0.0794), (2010.27, 0.0707), (2010.36, 0.0694), (2010.30, 0.0685), (2010.25, 0.0689),
    (2010.39, 0.0676), (2010.43, 0.0694), (2010.36, 0.0663), (2010.44, 0.0743), (2010.30, 0.0620),
    (2010.36, 0.0614), (2010.25, 0.0550), (2010.30, 0.0547), (2010.37, 0.0537), (2010.44, 0.0531),
    (2010.50, 0.0531), (2010.34, 0.0511), (2010.30, 0.0505), (2010.37, 0.0505), (2010.43, 0.0486),
    (2010.32, 0.0473), (2010.39, 0.0466), (2010.18, 0.0441), (2010.29, 0.0434), (2010.34, 0.0428),
    (2010.48, 0.0434), (2010.50, 0.0419), (2010.55, 0.0411), (2010.60, 0.0421), (2010.63, 0.0415),
    (2010.27, 0.0408), (2010.41, 0.0408), (2010.36, 0.0411), (2010.69, 0.0419), (2010.72, 0.0419),
    (2010.57, 0.0395), (2010.62, 0.0380), (2010.58, 0.0370), (2010.55, 0.0331), (2010.48, 0.0329),
    (2010.58, 0.0325), (2010.50, 0.0295), (2010.57, 0.0293), (2010.62, 0.0286), (2010.69, 0.0290),
    (2010.55, 0.0273), (2010.60, 0.0264), (2010.65, 0.0248), (2010.67, 0.0235), (2010.69, 0.0222),
    (2010.72, 0.0209), (2010.62, 0.0228), (2010.63, 0.0215), (2010.74, 0.0205),
    (2011.49, 0.0813), (2011.46, 0.0801), (2011.43, 0.0797), (2011.31, 0.0781), (2011.35, 0.0771),
    (2011.30, 0.0736), (2011.40, 0.0762), (2011.37, 0.0732), (2011.43, 0.0756), (2011.33, 0.0681),
    (2011.37, 0.0655), (2011.42, 0.0653), (2011.47, 0.0666), (2011.49, 0.0633), (2011.37, 0.0614),
    (2011.33, 0.0595), (2011.30, 0.0586), (2011.31, 0.0573), (2011.26, 0.0563), (2011.33, 0.0543),
    (2011.26, 0.0550), (2011.31, 0.0447), (2011.35, 0.0498), (2011.61, 0.0582), (2011.59, 0.0569),
    (2011.64, 0.0565), (2011.68, 0.0553), (2011.57, 0.0524), (2011.63, 0.0518), (2011.61, 0.0498),
    (2011.68, 0.0479), (2011.64, 0.0466), (2011.71, 0.0450), (2011.66, 0.0432), (2011.59, 0.0424),
    (2011.70, 0.0408), (2011.75, 0.0479), (2011.71, 0.0393), (2011.52, 0.0501),
]
nya_aod_fit_t = [2004.22, 2011.72]
nya_aod_fit_v = [0.0419, 0.0509]
nya_aod_mean_t = [2004.22, 2005.33, 2006.29, 2006.55, 2007.24, 2007.59, 2008.46, 2008.65, 2009.24,
                  2010.29, 2010.63, 2011.33, 2011.72]
nya_aod_mean_v = [0.0469, 0.0432, 0.0411, 0.0415, 0.0434, 0.0450, 0.0505, 0.0511, 0.0492,
                  0.0486, 0.0488, 0.0511, 0.0547]

nya_ang_a = [  # 414/677
    (2001.24, 1.36), (2001.29, 1.44), (2001.26, 1.22), (2001.29, 1.13), (2001.23, 1.19),
    (2002.24, 1.94), (2002.29, 1.85), (2002.27, 1.69), (2002.33, 1.76), (2002.39, 1.89), (2002.42, 1.83),
    (2002.27, 1.36), (2002.24, 1.11),
    (2003.24, 1.94), (2003.26, 1.73), (2003.24, 1.48),
    (2004.22, 1.56), (2004.30, 1.49), (2004.33, 1.42), (2004.25, 1.37), (2004.37, 1.49), (2004.42, 1.35),
    (2004.46, 1.29), (2004.44, 1.24), (2004.50, 1.16), (2004.53, 1.08), (2004.30, 1.04), (2004.37, 1.36),
    (2004.50, 1.25), (2004.55, 1.24),
    (2005.26, 2.14), (2005.28, 2.07), (2005.24, 1.88), (2005.33, 1.73), (2005.37, 1.75), (2005.42, 1.72),
    (2005.45, 1.71), (2005.47, 1.65), (2005.42, 1.62), (2005.33, 1.61), (2005.30, 1.54), (2005.38, 1.52),
    (2005.42, 1.49), (2005.49, 1.56), (2005.52, 1.59), (2005.56, 1.54), (2005.61, 1.56), (2005.68, 1.57),
    (2005.33, 1.42), (2005.38, 1.36), (2005.45, 1.33), (2005.50, 1.43), (2005.56, 1.41), (2005.63, 1.48),
    (2005.72, 1.47), (2005.78, 2.05), (2005.50, 1.35), (2005.33, 1.11),
    (2006.20, 1.81),
    (2006.48, 2.26), (2006.51, 2.23), (2006.55, 2.20), (2006.53, 2.14), (2006.46, 2.10), (2006.50, 2.06),
    (2006.57, 2.05), (2006.44, 2.00), (2006.51, 1.97), (2006.58, 1.96), (2006.48, 1.91), (2006.55, 1.89),
    (2006.44, 1.85), (2006.63, 1.85), (2006.69, 2.20), (2006.72, 2.15), (2006.65, 2.07), (2006.69, 2.00),
    (2006.72, 1.95), (2006.60, 1.81), (2006.46, 1.73),
    (2007.23, 1.71), (2007.26, 1.69), (2007.24, 1.54), (2007.28, 1.62), (2007.42, 2.07), (2007.46, 2.00),
    (2007.50, 1.96), (2007.49, 1.89), (2007.54, 1.91), (2007.56, 1.84), (2007.52, 1.78), (2007.46, 1.71),
    (2007.66, 2.14), (2007.70, 2.12), (2007.68, 2.05), (2007.71, 2.00), (2007.61, 1.81),
    (2008.48, 2.06), (2008.51, 2.02), (2008.46, 1.99), (2008.53, 1.97), (2008.44, 1.94), (2008.50, 1.91),
    (2008.43, 1.88), (2008.55, 1.89), (2008.46, 1.84), (2008.51, 1.80), (2008.44, 1.76), (2008.57, 1.81),
    (2008.60, 1.75), (2008.63, 1.72), (2008.58, 1.66), (2008.53, 1.69), (2008.43, 1.56), (2008.46, 1.49),
    (2009.26, 1.65), (2009.33, 1.37), (2009.42, 1.83), (2009.43, 1.76), (2009.42, 1.71), (2009.45, 1.75),
    (2009.40, 1.66), (2009.47, 1.71), (2009.43, 1.61), (2009.38, 1.47), (2009.42, 1.35), (2009.40, 1.30),
    (2010.46, 1.56), (2010.48, 1.51), (2010.43, 1.46), (2010.37, 1.40), (2010.30, 1.33), (2010.27, 1.29),
    (2010.34, 1.25), (2010.25, 1.20), (2010.39, 1.19), (2010.32, 1.14), (2010.20, 1.07), (2010.27, 1.00),
    (2010.23, 0.91), (2010.55, 1.20), (2010.60, 1.16), (2010.63, 1.09), (2010.57, 1.04), (2010.62, 0.96),
    (2010.67, 0.89), (2010.63, 0.82), (2010.69, 0.76), (2010.58, 0.72), (2010.65, 0.67), (2010.72, 0.63),
    (2010.62, 0.60), (2010.55, 0.39), (2010.74, 0.75), (2010.77, 1.01), (2010.79, 1.13), (2010.69, 1.25),
    (2011.42, 1.83), (2011.47, 1.82), (2011.52, 1.81), (2011.40, 1.76), (2011.49, 1.73), (2011.37, 1.69),
    (2011.46, 1.64), (2011.31, 1.64), (2011.26, 1.59), (2011.40, 1.56), (2011.30, 1.49), (2011.33, 1.42),
    (2011.43, 1.47), (2011.26, 1.25), (2011.28, 1.04), (2011.61, 1.81), (2011.66, 1.75), (2011.59, 1.71),
    (2011.68, 1.66), (2011.63, 1.62), (2011.70, 1.57), (2011.57, 1.56), (2011.73, 1.52), (2011.64, 1.49),
    (2011.68, 1.44), (2011.59, 1.41), (2011.71, 1.36),
]
nya_ang_b = [  # 501/864
    (2001.26, 1.21), (2001.31, 1.23), (2001.24, 1.00), (2001.29, 0.93),
    (2002.25, 0.72), (2002.24, 0.55), (2002.29, 0.53), (2002.36, 1.01), (2002.39, 0.53), (2002.42, 0.91),
    (2002.29, 0.34), (2002.27, 0.17),
    (2003.24, 0.29), (2003.29, 0.27),
    (2004.36, 2.26), (2004.37, 2.21), (2004.43, 1.85), (2004.46, 1.83), (2004.25, 1.59), (2004.28, 1.54),
    (2004.30, 1.44), (2004.44, 1.52), (2004.51, 1.41), (2004.48, 1.35), (2004.50, 1.20), (2004.55, 1.16),
    (2004.59, 1.71), (2004.46, 0.91), (2004.39, 0.79), (2004.27, 0.83), (2004.46, 0.50), (2004.43, 0.16),
    (2004.44, 0.05), (2004.46, 0.02),
    (2005.33, 2.67), (2005.50, 2.78), (2005.49, 2.50), (2005.52, 2.48), (2005.52, 2.21), (2005.50, 2.10),
    (2005.54, 1.71), (2005.59, 1.66), (2005.49, 1.54), (2005.42, 1.49), (2005.33, 1.44), (2005.50, 1.46),
    (2005.68, 1.43), (2005.57, 1.30), (2005.52, 1.11), (2005.56, 1.08), (2005.49, 0.87), (2005.26, 0.72),
    (2005.31, 0.43), (2005.49, 0.40), (2005.77, 0.53), (2005.33, 1.78), (2005.37, 1.69),
    (2006.22, 1.61),
    (2006.51, 1.37), (2006.46, 1.32), (2006.55, 1.27), (2006.44, 1.20), (2006.51, 1.17), (2006.48, 1.12),
    (2006.57, 1.09), (2006.46, 1.04), (2006.53, 0.98), (2006.50, 0.93), (2006.58, 0.85), (2006.55, 0.77),
    (2006.60, 0.71), (2006.65, 1.42), (2006.69, 1.36), (2006.67, 1.27), (2006.70, 1.18), (2006.67, 1.08),
    (2006.70, 0.98), (2006.69, 0.84), (2006.72, 0.79), (2006.67, 0.74), (2006.70, 0.70),
    (2007.23, 1.38), (2007.26, 1.33), (2007.24, 1.27), (2007.30, 1.22), (2007.24, 1.14), (2007.21, 0.91),
    (2007.23, 0.77), (2007.43, 1.54), (2007.47, 1.49), (2007.49, 1.41), (2007.45, 1.33), (2007.50, 1.30),
    (2007.52, 1.25), (2007.47, 1.18), (2007.42, 0.85), (2007.66, 1.38), (2007.70, 1.31), (2007.68, 1.25),
    (2007.71, 1.20), (2007.66, 1.14),
    (2008.44, 1.59), (2008.48, 1.52), (2008.43, 1.47), (2008.50, 1.41), (2008.44, 1.36), (2008.53, 1.31),
    (2008.57, 1.27), (2008.60, 1.33), (2008.46, 1.24), (2008.51, 1.17), (2008.55, 1.12), (2008.48, 1.07),
    (2008.53, 1.04), (2008.43, 0.98), (2008.46, 0.93), (2008.41, 0.89), (2008.48, 0.72), (2008.62, 1.25),
    (2008.60, 1.08), (2008.63, 1.04),
    (2009.24, 1.29), (2009.30, 1.30), (2009.37, 0.94), (2009.40, 0.69), (2009.43, 1.23), (2009.45, 1.16),
    (2009.47, 1.04), (2009.42, 1.11),
    (2010.30, 1.38), (2010.37, 1.35), (2010.30, 1.27), (2010.25, 1.22), (2010.36, 1.22), (2010.22, 1.17),
    (2010.30, 1.13), (2010.18, 1.09), (2010.27, 1.06), (2010.34, 1.04), (2010.22, 1.01), (2010.29, 0.98),
    (2010.17, 0.95), (2010.25, 0.91), (2010.32, 0.89), (2010.20, 0.85), (2010.27, 0.80), (2010.23, 0.76),
    (2010.30, 0.71), (2010.37, 0.67), (2010.46, 1.30), (2010.51, 1.25), (2010.57, 1.18), (2010.62, 1.23),
    (2010.67, 1.18), (2010.63, 1.06), (2010.58, 0.99), (2010.65, 0.93), (2010.60, 0.85), (2010.69, 0.82),
    (2010.63, 0.77), (2010.72, 0.84), (2010.60, 0.70), (2010.67, 0.65), (2010.74, 0.51), (2010.63, 0.53),
    (2010.62, 0.42), (2010.53, 0.60), (2010.70, 1.35), (2010.74, 1.28), (2010.76, 1.40), (2010.79, 1.71),
    (2010.48, 1.04),
    (2011.35, 1.52), (2011.30, 1.41), (2011.26, 1.36), (2011.33, 1.31), (2011.30, 1.24), (2011.37, 1.22),
    (2011.26, 1.18), (2011.31, 1.13), (2011.40, 1.16), (2011.31, 0.83), (2011.28, 0.79), (2011.33, 0.67),
    (2011.30, 0.53), (2011.52, 1.57), (2011.55, 1.49), (2011.61, 1.44), (2011.66, 1.41), (2011.57, 1.33),
    (2011.64, 1.29), (2011.70, 1.25), (2011.59, 1.24), (2011.66, 1.19), (2011.73, 1.17), (2011.63, 1.14),
    (2011.68, 1.11), (2011.56, 1.07), (2011.50, 0.89), (2011.71, 0.90), (2011.77, 1.48),
]
nya_ang_fit_t = [2004.22, 2011.72]
nya_ang_a_fit = [1.77, 1.36]
nya_ang_b_fit = [1.00, 1.16]
nya_ang_mean_t = [2004.22, 2005.33, 2006.46, 2007.45, 2008.46, 2009.42, 2010.29, 2010.63, 2011.33, 2011.72]
nya_ang_a_mean_v = [1.32, 1.62, 1.85, 1.92, 1.78, 1.49, 1.23, 1.28, 1.37, 1.37]
nya_ang_b_mean_v = [1.11, 1.11, 1.13, 1.23, 1.27, 1.12, 1.04, 1.08, 1.17, 1.23]

# ---------------- layout ----------------
W, H = 682, 1617
X0, X1 = 84, 632


def add_axes(fig, top, bottom):
    return fig.add_axes([X0 / W, 1 - bottom / H, (X1 - X0) / W, (bottom - top) / H])


fmt = FuncFormatter(lambda v, _: f"{v:g}")


def style(ax, ymin, ymax, major, minor, xlabels):
    ax.set_xlim(2001, 2012)
    ax.set_ylim(ymin, ymax)
    ax.xaxis.set_major_locator(MultipleLocator(1))
    ax.xaxis.set_minor_locator(MultipleLocator(0.25))
    ax.yaxis.set_major_locator(MultipleLocator(major))
    ax.yaxis.set_minor_locator(MultipleLocator(minor))
    ax.yaxis.set_major_formatter(fmt)
    ax.tick_params(which="both", direction="in", top=True, right=True, labelright=True,
                   labelbottom=xlabels, color="#666666", labelsize=11.5, width=0.8)
    ax.tick_params(which="major", length=5, pad=5)
    ax.tick_params(which="minor", length=2.5)
    ax.tick_params(axis="x", pad=6)
    for s in ax.spines.values():
        s.set_color("#777777")
        s.set_linewidth(0.9)


def ylabel(fig, text, top, bottom):
    fig.text(17 / W, 1 - (top + bottom) / 2 / H, text, rotation=90, ha="center", va="center",
             fontsize=11, family=["Liberation Sans", "DejaVu Sans"], fontweight="bold")


def aod_panel(fig, top, bottom, pts, fit_t, fit_v, mean_t, mean_v, label):
    ax = add_axes(fig, top, bottom)
    style(ax, 0.02, 0.1, 0.01, 0.002, False)
    t, v = np.array(pts).T
    ax.scatter(t, v, s=5.5, c=BLUE, linewidths=0, zorder=2)
    ax.plot(mean_t, mean_v, color=BLUE, lw=1.4, zorder=3)
    ax.plot(fit_t, fit_v, color=BLUE, lw=2.6, zorder=4)
    ax.text(0.065, 0.905, label, transform=ax.transAxes, color=BLUE, fontsize=13, va="center")
    ylabel(fig, "AEROSOL OPTICAL DEPTH", top, bottom)
    return ax


def ang_panel(fig, top, bottom, pts_a, pts_b, fit_t, fit_a, fit_b, mean_t_a, mean_a, mean_t_b, mean_b,
              labels):
    ax = add_axes(fig, top, bottom)
    style(ax, 0, 3, 0.5, 0.1, True)
    ta, va = np.array(pts_a).T
    tb, vb = np.array(pts_b).T
    ax.scatter(ta, va, s=8, c=ORANGE, linewidths=0, zorder=2)
    ax.scatter(tb, vb, s=8, c=RED, linewidths=0, zorder=2)
    ax.plot(mean_t_a, mean_a, color=ORANGE, lw=1.4, zorder=3)
    ax.plot(mean_t_b, mean_b, color=RED, lw=1.4, zorder=3)
    ax.plot(fit_t, fit_a, color=ORANGE, lw=4, zorder=4, solid_capstyle="butt")
    ax.plot(fit_t, fit_b, color=RED, lw=4, zorder=4, solid_capstyle="butt")
    ax.text(0.065, 0.925, labels[0], transform=ax.transAxes, color=ORANGE, fontsize=13, va="center")
    ax.text(0.065, 0.815, labels[1], transform=ax.transAxes, color=RED, fontsize=13, va="center")
    ylabel(fig, "ANGSTROM EXPONENT", top, bottom)
    fig.text(0.527, 1 - (bottom + 40) / H, "YEAR", ha="center", va="center", fontsize=13)
    return ax


fig = plt.figure(figsize=(W / 100, H / 100), dpi=100)

# BRW
fig.text(0.527, 1 - 20 / H, "BRW background AOD 2001-2011", ha="center", va="center", fontsize=14)
ax = aod_panel(fig, 43, 251, brw_aod, brw_aod_fit_t, brw_aod_fit_v, brw_aod_mean_t, brw_aod_mean_v,
               "500 nm")
for name, te in zip(brw_events, brw_event_t):
    ax.plot([te, te], [0.030, 0.091], color=RED, lw=1.4, ls=(0, (4, 2.5)), zorder=1)
    ax.text(te, 0.0253, name, ha="center", va="center", fontsize=12, color="black")
ax = ang_panel(fig, 268, 477, brw_ang_a, brw_ang_b, brw_ang_fit_t, brw_ang_a_fit, brw_ang_b_fit,
               brw_ang_a_mean_t, brw_ang_a_mean_v, brw_ang_b_mean_t, brw_ang_b_mean_v,
               ["412/675", "500/862"])
ax.text(brw_other[0], brw_other[1], "\u2260", color=GREEN, ha="center", va="center", fontsize=13,
        family=["DejaVu Sans"])

# ALT
fig.text(0.527, 1 - 566 / H, "ALT background AOD 2004-2011", ha="center", va="center", fontsize=14)
aod_panel(fig, 588, 797, alt_aod, alt_aod_fit_t, alt_aod_fit_v, alt_aod_mean_t, alt_aod_mean_v, "500 nm")
ang_panel(fig, 813, 1021, alt_ang_a, alt_ang_b, alt_ang_fit_t, alt_ang_a_fit, alt_ang_b_fit,
          alt_ang_mean_t, alt_ang_a_mean_v, alt_ang_mean_t, alt_ang_b_mean_v, ["412/675", "500/862"])

# NYA
fig.text(0.527, 1 - 1113 / H, "NYA background AOD 2001-2011", ha="center", va="center", fontsize=14)
aod_panel(fig, 1137, 1345, nya_aod, nya_aod_fit_t, nya_aod_fit_v, nya_aod_mean_t, nya_aod_mean_v, "501 nm")
ang_panel(fig, 1361, 1568, nya_ang_a, nya_ang_b, nya_ang_fit_t, nya_ang_a_fit, nya_ang_b_fit,
          nya_ang_mean_t, nya_ang_a_mean_v, nya_ang_mean_t, nya_ang_b_mean_v, ["414/677", "501/864"])

fig.savefig("out.png", dpi=100)
